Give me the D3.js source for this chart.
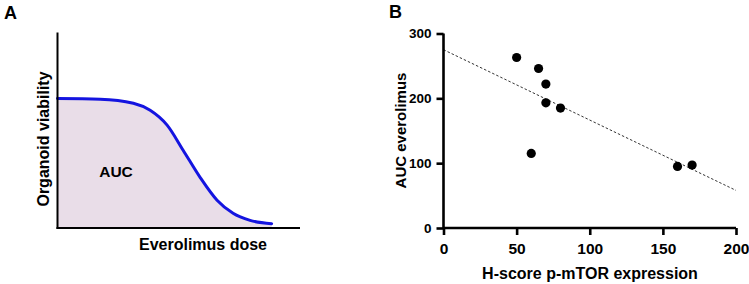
<!DOCTYPE html>
<html><head><meta charset="utf-8">
<script src="https://cdn.jsdelivr.net/npm/d3@7"></script>
<style>
html,body{margin:0;padding:0;background:#fff;}
svg{display:block;font-family:"Liberation Sans",Arial,Helvetica,sans-serif;}
</style></head>
<body>
<svg id="c" width="749" height="284"></svg>
<script>
// Panel A: schematic dose-response curve (arbitrary units)
const doseA = [0, 17.6, 31.3, 38.2, 45.2, 51.8, 58.8, 65.8, 72.4, 79.4, 88.3];
const viabilityA = [66.2, 65.9, 63.8, 60.2, 52.6, 39.8, 25.9, 14.2, 7.5, 3.9, 2.2];

// Panel B: scatter
const hScore = [50, 65, 70, 70, 80, 60, 160, 170];
const aucEverolimus = [263, 246, 222, 193, 185, 115, 95, 97];
const fitX = [0, 200];
const fitY = [275, 58];
const xTicksB = [0, 50, 100, 150, 200];
const yTicksB = [0, 100, 200, 300];

const svg = d3.select("#c");

// ---------- Panel A ----------
const gA = svg.append("g");
const xA = d3.scaleLinear().domain([0, 100]).range([57.5, 300]);
const yA = d3.scaleLinear().domain([0, 100]).range([228, 32.5]);
const ptsA = doseA.map((d, i) => [d, viabilityA[i]]);

gA.append("path")
  .datum(ptsA)
  .attr("fill", "#e9dde8")
  .attr("d", d3.area().x(d => xA(d[0])).y0(yA(0)).y1(d => yA(d[1])).curve(d3.curveMonotoneX));

gA.append("path")
  .datum(ptsA)
  .attr("fill", "none")
  .attr("stroke", "#1414e0")
  .attr("stroke-width", 3)
  .attr("stroke-linecap", "round")
  .attr("d", d3.line().x(d => xA(d[0])).y(d => yA(d[1])).curve(d3.curveMonotoneX));

gA.append("line").attr("x1", xA(0)).attr("x2", xA(0)).attr("y1", yA(100)).attr("y2", yA(0) + 1)
  .attr("stroke", "#000").attr("stroke-width", 2);
gA.append("line").attr("x1", xA(0) - 1).attr("x2", xA(100)).attr("y1", yA(0)).attr("y2", yA(0))
  .attr("stroke", "#000").attr("stroke-width", 2);

gA.append("text").attr("x", 116).attr("y", 177).attr("text-anchor", "middle")
  .attr("font-size", 15.5).attr("font-weight", "bold").text("AUC");
gA.append("text").attr("x", 203).attr("y", 250).attr("text-anchor", "middle")
  .attr("font-size", 16).attr("font-weight", "bold").text("Everolimus dose");
gA.append("text").attr("transform", "translate(49,139) rotate(-90)").attr("text-anchor", "middle")
  .attr("font-size", 16).attr("font-weight", "bold").text("Organoid viability");
gA.append("text").attr("x", 4).attr("y", 19).attr("font-size", 18).attr("font-weight", "bold").text("A");

// ---------- Panel B ----------
const gB = svg.append("g");
const xB = d3.scaleLinear().domain([0, 200]).range([443.5, 736]);
const yB = d3.scaleLinear().domain([0, 300]).range([228, 33.5]);

gB.append("line")
  .attr("x1", xB(fitX[0])).attr("y1", yB(fitY[0]))
  .attr("x2", xB(fitX[1])).attr("y2", yB(fitY[1]))
  .attr("stroke", "#333").attr("stroke-width", 1).attr("stroke-dasharray", "2.5,2");

const xAxisB = gB.append("g").attr("transform", `translate(0,${yB(0)})`)
  .call(d3.axisBottom(xB).tickValues(xTicksB).tickSize(7).tickPadding(8).tickFormat(d3.format("d")));
const yAxisB = gB.append("g").attr("transform", `translate(${xB(0)},0)`)
  .call(d3.axisLeft(yB).tickValues(yTicksB).tickSize(7).tickPadding(5).tickFormat(d3.format("d")));
[xAxisB, yAxisB].forEach(a => {
  a.select(".domain").attr("stroke", "#000").attr("stroke-width", 2.6);
  a.selectAll(".tick line").attr("stroke", "#000").attr("stroke-width", 2.6);
  a.selectAll(".tick text").attr("fill", "#000").attr("font-weight", "bold")
    .attr("font-family", "\"Liberation Sans\",Arial,sans-serif");
});
xAxisB.selectAll(".tick text").attr("font-size", 15.5);
yAxisB.selectAll(".tick text").attr("font-size", 13.5);
// remove outer tick stubs from domain path
xAxisB.select(".domain").attr("d", `M${xB(0)},0H${xB(200)}`);
yAxisB.select(".domain").attr("d", `M0,${yB(300)}V${yB(0)}`);

gB.selectAll("circle.pt")
  .data(hScore.map((h, i) => [h, aucEverolimus[i]]))
  .join("circle").attr("class", "pt")
  .attr("cx", d => xB(d[0])).attr("cy", d => yB(d[1])).attr("r", 4.6).attr("fill", "#000");

gB.append("text").attr("x", 590).attr("y", 279).attr("text-anchor", "middle")
  .attr("font-size", 16).attr("font-weight", "bold").text("H-score p-mTOR expression");
gB.append("text").attr("transform", "translate(406,130.5) rotate(-90)").attr("text-anchor", "middle")
  .attr("font-size", 15).attr("font-weight", "bold").text("AUC everolimus");
gB.append("text").attr("x", 389).attr("y", 18).attr("font-size", 18).attr("font-weight", "bold").text("B");
</script>
</body></html>
